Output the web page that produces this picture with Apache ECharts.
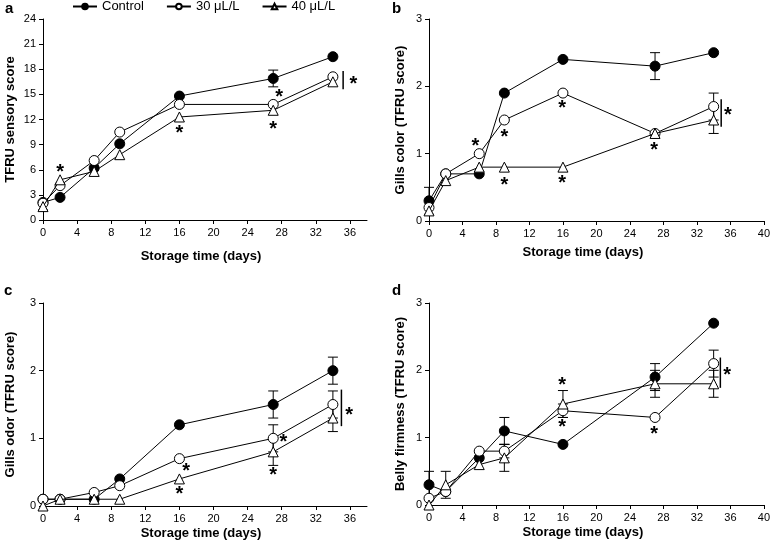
<!DOCTYPE html>
<html>
<head>
<meta charset="utf-8">
<script src="https://cdn.jsdelivr.net/npm/echarts@6/dist/echarts.min.js"></script>
<style>html,body{margin:0;padding:0;background:#fff;}#c{width:773px;height:547px;}</style>
</head>
<body>
<div id="c"></div>
<script>
// ---- data ----
const days = [0, 2, 6, 9, 16, 27, 34];
const seriesNames = ['Control', '30 μL/L', '40 μL/L'];
const xTicksShort = [0, 4, 8, 12, 16, 20, 24, 28, 32, 36];
const xTicksLong = [0, 4, 8, 12, 16, 20, 24, 28, 32, 36, 40];

// panel a: TFRU sensory score
const aControl = [2.1, 2.7, 6.2, 9.1, 14.8, 16.9, 19.5];
const a30 = [2.0, 4.1, 7.1, 10.5, 13.8, 13.8, 17.1];
const a40 = [1.6, 4.8, 5.8, 7.8, 12.3, 13.1, 16.5];
const aErr = [[27, 16.9, 1.0], [0, 1.6, 0.4]];            // [day, mean, sd]
const aStars = [[2, 6.2], [27.7, 15.1], [16, 10.9], [27, 11.3], [36.4, 16.7]];
const aBracket = [[35.2, 15.6, 17.8]];

// panel b: Gills color
const bControl = [0.3, 0.7, 0.7, 1.9, 2.4, 2.3, 2.5];
const b30 = [0.2, 0.7, 1.0, 1.5, 1.9, 1.3, 1.7];
const b40 = [0.15, 0.6, 0.8, 0.8, 0.8, 1.3, 1.5];
const bErr = [[0, 0.3, 0.2], [27, 2.3, 0.2], [34, 1.7, 0.2], [34, 1.5, 0.2]];
const bStars = [[5.55, 1.17], [9, 1.31], [9, 0.59], [15.9, 1.73], [15.9, 0.62], [26.9, 1.12], [35.7, 1.63]];
const bBracket = [[34.9, 1.40, 1.81]];

// panel c: Gills odor
const cControl = [0.1, 0.1, 0.1, 0.4, 1.2, 1.5, 2.0];
const c30 = [0.1, 0.1, 0.2, 0.3, 0.7, 1.0, 1.5];
const c40 = [0.0, 0.1, 0.1, 0.1, 0.4, 0.8, 1.3];
const cErr = [[27, 1.5, 0.2], [34, 2.0, 0.2], [27, 1.0, 0.2], [34, 1.5, 0.2], [27, 0.8, 0.2], [34, 1.3, 0.2]];
const cStars = [[16.8, 0.58], [16.0, 0.23], [28.2, 1.01], [27.0, 0.51], [35.9, 1.41]];
const cBracket = [[35.0, 1.18, 1.72]];

// panel d: Belly firmness
const dControl = [0.3, 0.2, 0.7, 1.1, 0.9, 1.9, 2.7];
const d30 = [0.1, 0.2, 0.8, 0.8, 1.4, 1.3, 2.1];
const d40 = [0.0, 0.3, 0.6, 0.7, 1.5, 1.8, 1.8];
const dErr = [[0, 0.3, 0.2], [2, 0.3, 0.2], [9, 1.1, 0.2], [9, 0.8, 0.1], [9, 0.7, 0.2], [16, 1.5, 0.2], [16, 1.4, 0.1],
              [27, 1.9, 0.2], [27, 1.8, 0.2], [34, 2.1, 0.2], [34, 1.8, 0.2]];
const dStars = [[15.9, 1.84], [15.9, 1.21], [26.9, 1.12], [35.6, 1.99]];
const dBracket = [[34.8, 1.74, 2.19]];

// ---- chart ----
const FONT = 'Liberation Sans, Arial, sans-serif';
const chart = echarts.init(document.getElementById('c'), null, {renderer: 'canvas'});

const panels = [
  {vals: [aControl, a30, a40], err: aErr, stars: aStars, bracket: aBracket,
   grid: {left: 43, top: 19, width: 324, height: 201}, xmax: 38, xticks: xTicksShort,
   ymax: 24, yint: 3, yname: 'TFRU sensory score', ygap: 26, xgap: 30, xpad: 8},
  {vals: [bControl, b30, b40], err: bErr, stars: bStars, bracket: bBracket,
   grid: {left: 429, top: 19, width: 339, height: 202}, xmax: 40, xticks: xTicksLong,
   ymax: 3, yint: 1, yname: 'Gills color (TFRU score)', ygap: 22, xgap: 25, xpad: 27},
  {vals: [cControl, c30, c40], err: cErr, stars: cStars, bracket: cBracket,
   grid: {left: 43, top: 303, width: 324, height: 203}, xmax: 38, xticks: xTicksShort,
   ymax: 3, yint: 1, yname: 'Gills odor (TFRU score)', ygap: 26, xgap: 21, xpad: 8},
  {vals: [dControl, d30, d40], err: dErr, stars: dStars, bracket: dBracket,
   grid: {left: 429, top: 303, width: 339, height: 202}, xmax: 40, xticks: xTicksLong,
   ymax: 3, yint: 1, yname: 'Belly firmness (TFRU score)', ygap: 22, xgap: 21, xpad: 27}
];

const markerStyles = [
  {symbol: 'circle', symbolSize: 10, itemStyle: {color: '#000', borderColor: '#000', borderWidth: 1}},
  {symbol: 'circle', symbolSize: 10, itemStyle: {color: '#fff', borderColor: '#000', borderWidth: 1}},
  {symbol: 'triangle', symbolSize: 10, itemStyle: {color: '#fff', borderColor: '#000', borderWidth: 1}}
];

const grids = [], xAxes = [], yAxes = [], series = [];
const axisLine = {show: true, lineStyle: {color: '#000', width: 1}};
const axisTick = {show: true, length: 4, lineStyle: {color: '#000', width: 1}};

function errItem(params, api) {
  const x = api.value(0), m = api.value(1), s = api.value(2);
  const p1 = api.coord([x, m - s]), p2 = api.coord([x, m + s]);
  const w = 5;
  const st = {stroke: '#000', lineWidth: 1};
  return {type: 'group', children: [
    {type: 'line', shape: {x1: p1[0], y1: p1[1], x2: p2[0], y2: p2[1]}, style: st},
    {type: 'line', shape: {x1: p1[0] - w, y1: p1[1], x2: p1[0] + w, y2: p1[1]}, style: st},
    {type: 'line', shape: {x1: p2[0] - w, y1: p2[1], x2: p2[0] + w, y2: p2[1]}, style: st}
  ]};
}
function starItem(params, api) {
  const p = api.coord([api.value(0), api.value(1)]);
  const fs = 20;
  return {type: 'text', x: p[0], y: p[1] + fs * 0.22,
    style: {text: '*', font: 'bold ' + fs + 'px ' + FONT, fill: '#000', align: 'center', verticalAlign: 'middle'}};
}
function bracketItem(params, api) {
  const x = api.value(0);
  const p1 = api.coord([x, api.value(1)]), p2 = api.coord([x, api.value(2)]);
  return {type: 'line', shape: {x1: p1[0], y1: p1[1], x2: p2[0], y2: p2[1]}, style: {stroke: '#000', lineWidth: 1.5}};
}

panels.forEach((p, i) => {
  grids.push(Object.assign({containLabel: false}, p.grid));
  xAxes.push({
    gridIndex: i, type: 'value', min: 0, max: p.xmax, interval: 4,
    axisLine, axisTick: Object.assign({customValues: p.xticks}, axisTick),
    splitLine: {show: false},
    axisLabel: {customValues: p.xticks, color: '#000', fontSize: 11, fontFamily: FONT, margin: 7},
    name: 'Storage time (days)', nameLocation: 'middle', nameGap: p.xgap,
    nameTextStyle: {color: '#000', fontSize: 13, fontWeight: 'bold', fontFamily: FONT, padding: [0, p.xpad, 0, 0]}
  });
  yAxes.push({
    gridIndex: i, type: 'value', min: 0, max: p.ymax, interval: p.yint,
    axisLine, axisTick, splitLine: {show: false},
    axisLabel: {color: '#000', fontSize: 11, fontFamily: FONT, margin: 7},
    name: p.yname, nameLocation: 'middle', nameGap: p.ygap, nameRotate: 90,
    nameTextStyle: {color: '#000', fontSize: 13, fontWeight: 'bold', fontFamily: FONT}
  });
  series.push({
    type: 'custom', xAxisIndex: i, yAxisIndex: i, renderItem: errItem, z: 1, silent: true,
    data: p.err
  });
  p.vals.forEach((v, k) => {
    series.push(Object.assign({
      type: 'line', name: seriesNames[k], xAxisIndex: i, yAxisIndex: i, z: 2 + k,
      data: days.map((d, j) => [d, v[j]]),
      lineStyle: {color: '#000', width: 1},
      emphasis: {disabled: true}, silent: true
    }, markerStyles[k]));
  });
  series.push({
    type: 'custom', xAxisIndex: i, yAxisIndex: i, renderItem: starItem, z: 6, silent: true,
    data: p.stars
  });
  series.push({
    type: 'custom', xAxisIndex: i, yAxisIndex: i, renderItem: bracketItem, z: 6, silent: true,
    data: p.bracket
  });
});

const letters = [['a', 5, 1], ['b', 392, 1], ['c', 4, 283], ['d', 392, 283]];

chart.setOption({
  animation: false,
  backgroundColor: '#fff',
  textStyle: {fontFamily: FONT},
  legend: {
    data: seriesNames, left: 72, top: 0, padding: 0,
    itemWidth: 24, itemHeight: 7, itemGap: 22,
    textStyle: {color: '#000', fontSize: 13, fontFamily: FONT},
    selectedMode: false
  },
  grid: grids, xAxis: xAxes, yAxis: yAxes, series: series,
  graphic: letters.map(l => ({
    type: 'text', left: l[1], top: l[2],
    style: {text: l[0], font: 'bold 15px ' + FONT, fill: '#000'}
  }))
});
</script>
</body>
</html>
